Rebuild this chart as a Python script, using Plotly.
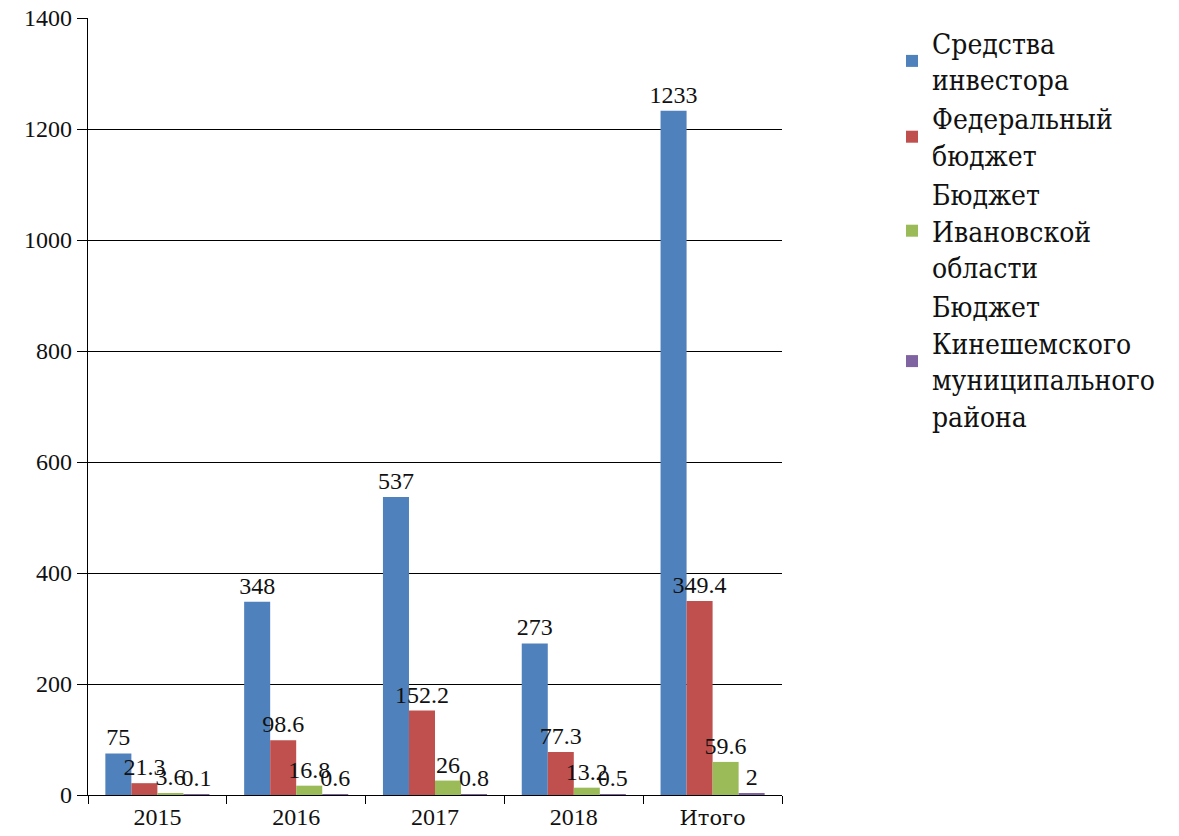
import plotly.graph_objects as go

categories = ["2015", "2016", "2017", "2018", "Итого"]
series_names = [
    "Средства<br>инвестора",
    "Федеральный<br>бюджет",
    "Бюджет<br>Ивановской<br>области",
    "Бюджет<br>Кинешемского<br>муниципального<br>района",
]
investor = [75, 348, 537, 273, 1233]
federal = [21.3, 98.6, 152.2, 77.3, 349.4]
ivanovo = [3.6, 16.8, 26, 13.2, 59.6]
kineshma = [0.1, 0.6, 0.8, 0.5, 2]
colors = ["#4F81BD", "#C0504D", "#9BBB59", "#8064A2"]

FONT = "Liberation Serif"
CYR_FONT = "DejaVu Serif"
LEGEND_FONT = "DejaVu Serif Condensed, DejaVu Serif"

tick_text = [
    c if c.isdigit() else f'<span style="font-family:{CYR_FONT};font-size:21px">{c}</span>'
    for c in categories
]

fig = go.Figure()
for name, vals, col in zip(series_names, [investor, federal, ivanovo, kineshma], colors):
    fig.add_trace(go.Bar(
        x=categories, y=vals, name=name, marker_color=col, marker_line_width=0,
        text=[f"{v:g}" for v in vals], textposition="outside",
        textfont=dict(family=FONT, size=24, color="#111"),
        constraintext="none",
        cliponaxis=False,
    ))

fig.update_layout(
    width=1171, height=828,
    paper_bgcolor="white", plot_bgcolor="white",
    margin=dict(l=80, r=397, t=10, b=41),
    barmode="group", bargap=0.25, bargroupgap=0,
    font=dict(family=FONT, color="#111"),
    legend=dict(
        x=1.1585, y=1.0, xanchor="left", yanchor="top",
        font=dict(family=LEGEND_FONT, size=28, color="#111"),
        valign="middle", tracegroupgap=0, itemwidth=30,
        bgcolor="rgba(0,0,0,0)",
    ),
    showlegend=True,
)
fig.update_yaxes(
    range=[0, 1400], dtick=200, showgrid=True, gridcolor="#000", gridwidth=1.3,
    showline=True, linecolor="#000", linewidth=1.3, ticks="outside", ticklen=10,
    tickcolor="#000", tickfont=dict(family=FONT, size=24, color="#111"),
    ticklabeloverflow="allow", automargin=False, zeroline=False,
)
fig.update_xaxes(
    showline=True, linecolor="#000", linewidth=1.3, ticks="outside", ticklen=8,
    tickcolor="#000", tickson="boundaries", automargin=False,
    tickmode="array", tickvals=categories, ticktext=tick_text,
    tickfont=dict(family=FONT, size=24, color="#111"),
)

fig.write_html("out.html")
